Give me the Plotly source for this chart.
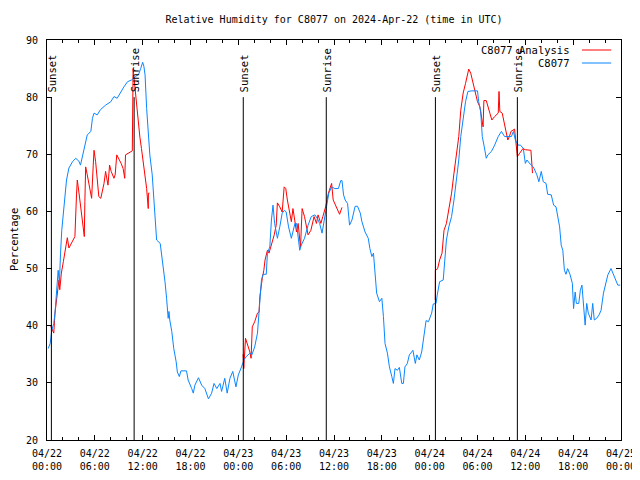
import plotly.graph_objects as go
import pandas as pd

base = pd.Timestamp("2024-04-22 00:00")

# Observed C8077 relative humidity (hours since 04/22 00:00 UTC, %)
obs_hours = [0.15, 0.4, 0.6, 0.85, 1.0, 1.15, 1.3, 1.4, 1.55, 1.6, 1.7, 1.85, 2.05, 2.25, 2.45, 2.75,
             3.2, 3.6, 4.0, 4.2, 4.55, 4.85, 5.05, 5.5, 5.7, 5.9, 6.3, 6.7, 7.35, 8.0, 8.4, 8.8, 9.25,
             9.65, 10.1, 10.6, 11.1, 11.5, 11.75, 12.0, 12.15, 12.3, 12.5, 12.7, 12.9, 13.2, 13.35,
             13.55, 13.75, 14.2, 14.4, 14.6, 14.8, 15.0, 15.2, 15.3, 15.4, 15.65, 15.9, 16.2, 16.35,
             16.6, 16.8, 17.5, 17.7, 18.15, 18.35, 18.55, 19.0, 19.4, 19.8, 20.25, 20.65, 20.95, 21.3,
             21.7, 21.9, 22.3, 22.6, 22.95, 23.3, 23.7, 24.0, 24.4, 24.7, 25.0, 25.45, 25.7, 26.05,
             26.4, 26.7, 26.9, 27.1, 27.5, 27.65, 27.95, 28.15, 28.35, 28.55, 28.9, 29.2, 29.5, 29.8,
             30.0, 30.3, 30.65, 31.1, 31.3, 31.7, 31.9, 32.3, 32.75, 33.15, 33.6, 33.9, 34.2, 34.5,
             34.75, 35.05, 35.35, 35.7, 36.1, 36.55, 36.85, 37.0, 37.2, 37.4, 37.7, 37.95, 38.25,
             38.65, 38.95, 39.3, 39.5, 39.9, 40.3, 40.5, 40.75, 40.95, 41.15, 41.35, 41.7, 42.0, 42.2,
             42.4, 42.7, 42.95, 43.25, 43.45, 43.65, 43.95, 44.2, 44.5, 44.7, 44.9, 45.2, 45.45, 45.9,
             46.2, 46.4, 46.7, 47.0, 47.3, 47.55, 47.85, 48.25, 48.45, 48.8, 48.95, 49.25, 49.7, 49.9,
             50.1, 50.4, 50.75, 51.05, 51.35, 51.65, 51.9, 52.2, 52.5, 52.8, 53.3, 54.0, 54.15, 54.4,
             54.6, 54.85, 55.1, 55.3, 55.75, 56.15, 56.6, 57.0, 57.4, 58.25, 58.5, 58.75, 59.1, 59.4,
             59.75, 60.0, 60.2, 60.6, 61.0, 61.45, 61.7, 62.0, 62.25, 62.6, 62.8, 63.25, 63.55, 63.85,
             64.1, 64.3, 64.5, 64.7, 64.9, 65.1, 65.3, 65.6, 65.9, 66.05, 66.25, 66.4, 66.7, 66.9,
             67.1, 67.3, 67.5, 67.7, 67.9, 68.25, 68.45, 68.65, 68.95, 69.25, 69.5, 69.8, 70.1, 70.35,
             70.75, 71.05, 71.4, 71.6, 71.9]
obs_rh = [36.0, 36.9, 39.2, 40.4, 42.2, 45.7, 48.0, 49.7, 47.4, 50.9, 52.7, 56.7, 59.7, 63.2, 65.5, 67.6,
          68.7, 69.3, 68.8, 68.1, 70.5, 72.5, 73.4, 74.0, 76.3, 77.2, 76.9, 77.8, 78.6, 79.2, 80.1, 79.8, 81.0,
          81.8, 82.7, 83.0, 83.6, 84.0, 85.0, 86.1, 85.4, 83.9, 78.0, 74.5, 69.9, 66.4, 62.9,
          58.2, 55.0, 54.4, 52.4, 50.0, 47.7, 44.8, 41.3, 42.5, 41.0, 39.0, 36.0, 33.7, 31.9,
          31.1, 32.1, 32.1, 30.5, 29.0, 28.2, 29.6, 30.9, 29.6, 29.0, 27.2, 28.2, 29.9, 29.0,
          29.9, 28.5, 30.8, 28.2, 30.8, 32.0, 29.3, 31.4, 32.8, 34.0, 34.6, 35.2, 34.9, 36.3,
          38.7, 45.1, 48.0, 49.0, 49.0, 52.7, 53.8, 58.5, 61.1, 57.9, 55.3, 57.3, 59.7, 60.2,
          59.9, 57.3, 55.3, 57.9, 57.9, 53.2, 54.1, 55.3, 57.6, 59.1, 59.4, 58.8, 57.9, 56.2,
          58.5, 60.8, 63.2, 64.3, 64.0, 64.0, 65.4, 65.4, 62.9, 62.0, 61.4, 57.6, 58.5,
          60.9, 60.9, 59.7, 58.2, 56.4, 55.3, 53.5, 52.1, 52.7, 48.6, 45.7, 44.2, 44.8, 41.6,
          36.9, 35.2, 32.8, 31.1, 29.9, 32.5, 32.2, 32.7, 29.9, 29.9, 32.8, 33.4, 34.9, 35.7,
          33.4, 34.9, 34.0, 35.4, 38.7, 40.9, 40.7, 42.2, 43.8, 43.9, 45.4, 47.7, 48.0, 51.5,
          55.0, 57.3, 59.1, 62.0, 65.5, 69.0, 73.1, 76.3, 79.2, 81.0, 81.1, 81.1, 79.2, 77.5,
          73.1, 71.3, 69.3, 69.9, 70.5, 71.6, 73.1, 74.0, 73.1, 73.1, 74.0, 72.5, 71.6, 71.6,
          71.0, 68.4, 69.0, 68.3, 67.8, 66.4, 65.2, 67.0, 65.2, 64.9, 63.0, 62.9, 61.1, 60.8,
          59.1, 57.3, 54.1, 53.2, 49.7, 49.0, 50.0, 49.0, 47.4, 43.0, 45.9, 43.9, 43.9, 46.2,
          47.1, 43.3, 40.1, 43.9, 42.2, 41.0, 43.9, 41.0, 41.3, 41.9, 42.7, 45.7, 47.4, 48.9,
          50.0, 49.0, 48.0, 47.1, 47.1]

# Analysis series, three separate runs
ana1_hours = [0.45, 0.7, 0.85, 1.0, 1.3, 1.5, 1.6, 1.8, 2.05, 2.35, 2.55, 2.75, 3.2, 3.5, 3.7, 3.8, 4.0,
              4.15, 4.3, 4.55, 4.68, 4.75, 4.85, 5.05, 5.25, 5.5, 5.6, 5.8, 5.9, 6.1, 6.3, 6.5, 6.75,
              6.95, 7.15, 7.35, 7.55, 7.65, 7.85, 8.05, 8.4, 8.55, 8.75, 9.0, 9.3, 9.55, 9.75, 9.85,
              10.3, 10.7, 10.8, 11.0, 11.25, 11.45, 11.65, 11.85, 12.05, 12.25, 12.5, 12.7, 12.72, 12.85]
ana1_rh = [40.0, 39.3, 38.7, 42.2, 45.7, 48.0, 46.3, 49.2, 51.2, 53.5, 55.4, 53.6, 54.7, 55.6, 62.9, 65.5, 63.4,
           61.7, 59.1, 57.0, 55.6, 61.7, 67.8, 66.4, 64.6, 62.6, 62.3, 68.1, 70.7, 68.7, 65.8, 62.6, 62.3,
           63.4, 64.9, 67.0, 65.5, 64.6, 68.1, 67.0, 65.8, 66.4, 69.9, 69.3, 68.4, 67.5, 65.8, 69.9,
           70.3, 70.6, 85.0, 82.0, 79.0, 76.0, 73.0, 71.0, 69.0, 67.0, 64.0, 60.5, 63.2, 63.2]
ana2_hours = [24.6, 24.68, 24.9, 25.2, 25.45, 25.6, 25.75, 26.05, 26.4, 26.6, 26.7, 27.0, 27.2, 27.35,
              27.65, 27.85, 28.15, 28.5, 28.75, 28.9, 29.2, 29.5, 29.75, 29.95, 30.15, 30.45, 30.65,
              30.85, 31.1, 31.3, 31.5, 31.7, 31.8, 32.0, 32.3, 32.75, 33.1, 33.5, 33.8, 34.0, 34.35,
              34.6, 34.95, 35.3, 35.5, 35.7, 35.9, 36.2, 36.4, 36.7, 37.0]
ana2_rh = [35.0, 32.5, 37.8, 36.6, 35.4, 34.3, 39.8, 40.7, 42.2, 42.4, 45.1, 48.3, 49.7, 51.5,
           53.2, 52.7, 54.1, 55.9, 57.6, 61.5, 60.8, 59.9, 64.3, 64.0, 62.0, 59.7, 58.2,
           60.5, 58.2, 56.4, 57.9, 54.7, 53.7, 60.5, 59.1, 55.9, 56.7, 59.1, 57.9, 59.4, 57.9,
           59.1, 60.8, 63.2, 64.0, 64.9, 62.0, 61.1, 60.2, 59.5, 60.7]
ana3_hours = [48.7, 48.72, 49.0, 49.25, 49.55, 49.8, 50.1, 50.4, 50.75, 51.05, 51.35, 51.65, 51.9, 52.2,
              52.5, 52.75, 52.9, 53.15, 53.45, 53.7, 54.0, 54.3, 54.5, 54.7, 54.8, 55.1, 55.55, 55.8,
              56.15, 56.6, 56.7, 56.8, 57.1, 57.35, 57.6, 57.8, 58.0, 58.2, 58.65, 58.8, 59.0, 59.3,
              59.7, 60.0, 60.7, 60.9]
ana3_rh = [44.5, 49.7, 50.0, 51.5, 52.7, 56.7, 57.9, 60.2, 63.2, 66.7, 69.6, 73.1, 77.7, 80.7,
           82.4, 83.9, 84.9, 84.2, 82.4, 80.7, 79.2, 78.3, 76.6, 74.8, 79.4, 79.4, 77.2, 76.0,
           76.6, 77.2, 81.0, 77.5, 77.2, 75.7, 74.0, 72.5, 73.1, 74.0, 74.4, 72.2, 69.6, 70.2,
           71.0, 70.8, 70.7, 66.7]

sunset_hours = [0.55, 24.62, 48.72]
sunrise_hours = [10.93, 35.03, 59.0]
tick_step_hours = 6
minor_step_hours = 2
total_hours = 72


def to_time(hours):
    return [None if h is None else base + pd.Timedelta(hours=h) for h in hours]


ana_hours = ana1_hours + [None] + ana2_hours + [None] + ana3_hours
ana_rh = ana1_rh + [None] + ana2_rh + [None] + ana3_rh

FONT = "DejaVu Sans Mono"
FS = 10
RED = "#ff0000"
BLUE = "#0a86ff"

# page body has an 8px margin, so the figure is 8px smaller and margins shifted
W, H = 632, 472
ML, MT = 39, 32
PW, PH = 574, 400

fig = go.Figure()
fig.add_trace(go.Scatter(x=to_time(ana_hours), y=ana_rh, mode="lines", name="C8077 Analysis",
                         line=dict(color=RED, width=1), connectgaps=False))
fig.add_trace(go.Scatter(x=to_time(obs_hours), y=obs_rh, mode="lines", name="C8077",
                         line=dict(color=BLUE, width=1)))

shapes = []
annotations = []
for hours, label in ((sunset_hours, "Sunset"), (sunrise_hours, "Sunrise")):
    for h in hours:
        t = base + pd.Timedelta(hours=h)
        shapes.append(dict(type="line", xref="x", yref="y", x0=t, x1=t, y0=20, y1=80,
                           line=dict(color="black", width=1)))
        annotations.append(dict(x=t, y=80, xref="x", yref="y", text=label, textangle=-90,
                                showarrow=False, xanchor="center", yanchor="bottom", yshift=3, xshift=1,
                                font=dict(family=FONT, size=FS + 0.5, color="black")))

# custom legend (text right, sample line on the right)
legend_items = [("C8077 Analysis", RED, 0.975), ("C8077", BLUE, 0.9425)]
for name, col, yp in legend_items:
    annotations.append(dict(x=0.914, y=yp, xref="paper", yref="paper", text=name, showarrow=False,
                            xanchor="right", yanchor="middle",
                            font=dict(family=FONT, size=FS + 0.5, color="black")))
    shapes.append(dict(type="line", xref="paper", yref="paper", x0=0.932, x1=0.983, y0=yp, y1=yp,
                       line=dict(color=col, width=1)))

annotations.append(dict(x=-(ML - 6) / PW, y=0.5, xref="paper", yref="paper", text="Percentage",
                        textangle=-90, showarrow=False, xanchor="center", yanchor="middle",
                        font=dict(family=FONT, size=FS + 0.5, color="black")))

fig.update_layout(
    width=W, height=H,
    margin=dict(l=ML, r=W - ML - PW, t=MT, b=H - MT - PH, autoexpand=False),
    paper_bgcolor="white", plot_bgcolor="white",
    showlegend=False,
    font=dict(family=FONT, size=FS, color="black"),
    title=dict(text="Relative Humidity for C8077 on 2024-Apr-22 (time in UTC)",
               x=0.5, xref="paper", xanchor="center", y=1 - 11 / H, yanchor="middle",
               font=dict(family=FONT, size=FS, color="black")),
    shapes=shapes, annotations=annotations,
)
fig.update_xaxes(
    type="date", automargin=False,
    range=[base, base + pd.Timedelta(hours=total_hours)],
    tickmode="linear", tick0=base, dtick=tick_step_hours * 3600000,
    tickformat="%m/%d<br>%H:%M",
    ticks="inside", ticklen=5, tickcolor="black", ticklabelstandoff=4,
    minor=dict(dtick=minor_step_hours * 3600000, ticks="inside", ticklen=3, tickcolor="black"),
    showline=True, linecolor="black", linewidth=1, mirror="ticks",
    showgrid=False, zeroline=False,
    tickfont=dict(family=FONT, size=FS, color="black"),
)
fig.update_yaxes(
    range=[20, 90], dtick=10, tick0=20, automargin=False,
    ticks="inside", ticklen=5, tickcolor="black", ticklabelstandoff=6,
    showline=True, linecolor="black", linewidth=1, mirror="ticks",
    showgrid=False, zeroline=False,
    tickfont=dict(family=FONT, size=FS, color="black"),
)

fig.write_html("out.html")
